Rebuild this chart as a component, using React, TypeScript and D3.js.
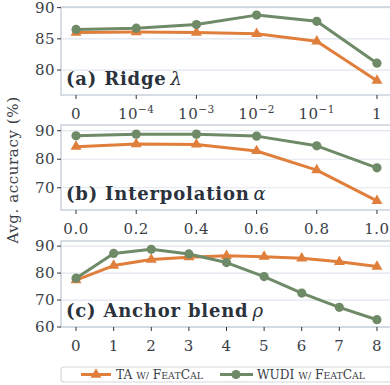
import * as d3 from 'd3';

const ridgeLabels = ['0', '10^-4', '10^-3', '10^-2', '10^-1', '1'];
const ridgeTA = [86.0, 86.1, 86.0, 85.8, 84.6, 78.3];
const ridgeWUDI = [86.5, 86.7, 87.3, 88.8, 87.8, 81.1];

const interpX = [0, 0.2, 0.4, 0.6, 0.8, 1.0];
const interpTA = [84.4, 85.3, 85.2, 82.9, 76.2, 65.4];
const interpWUDI = [88.2, 88.8, 88.8, 88.1, 84.7, 77.0];

const anchorX = [0, 1, 2, 3, 4, 5, 6, 7, 8];
const anchorTA = [77.4, 82.8, 85.0, 85.9, 86.4, 86.1, 85.5, 84.2, 82.4];
const anchorWUDI = [78.1, 87.3, 88.8, 87.1, 83.9, 78.7, 72.6, 67.3, 62.7];

const TA_COLOR = '#e07f3b';
const WUDI_COLOR = '#6e8a67';
const SPINE = '#c9d2dd';
const GRID = '#e0e6ee';
const TICK_TEXT = '#3a3e46';
const LABEL_TEXT = '#2c323c';
const FONT = "'DejaVu Serif', 'Liberation Serif', serif";

const LEFT = 61;
const RIGHT = 392;

type PanelProps = {
  top: number;
  bottom: number;
  xs: number[];
  xDomain: [number, number];
  xLabels: string[];
  yDomain: [number, number];
  yTicks: number[];
  ta: number[];
  wudi: number[];
  title: string;
  sym: string;
};

function TickLabel({ label, x, y }: { label: string; x: number; y: number }) {
  if (label.startsWith('10^')) {
    const exp = label.slice(3).replace('-', '\u2212');
    return (
      <text x={x} y={y} textAnchor="middle" style={{ fontFamily: FONT, letterSpacing: '0.5px' }} fontSize={15} fill={TICK_TEXT}>
        <tspan>10</tspan>
        <tspan fontSize={10.5} dy={-6}>{exp}</tspan>
      </text>
    );
  }
  return (
    <text x={x} y={y} textAnchor="middle" style={{ fontFamily: FONT, letterSpacing: '0.5px' }} fontSize={15} fill={TICK_TEXT}>
      {label}
    </text>
  );
}

function Panel(p: PanelProps) {
  const x = d3.scaleLinear().domain(p.xDomain).range([LEFT, RIGHT]);
  const y = d3.scaleLinear().domain(p.yDomain).range([p.bottom, p.top]);
  const line = d3.line<number>()
    .x((_, i) => x(p.xs[i]))
    .y(d => y(d));
  const tri = d3.symbol().type(d3.symbolTriangle).size(52)();

  return (
    <g>
      <rect x={LEFT} y={p.top} width={RIGHT - LEFT} height={p.bottom - p.top} fill="white" />
      {p.yTicks.map(t => (
        <line key={'g' + t} x1={LEFT} x2={RIGHT} y1={y(t)} y2={y(t)} stroke={GRID} strokeWidth={1.2} />
      ))}
      <rect x={LEFT} y={p.top} width={RIGHT - LEFT} height={p.bottom - p.top} fill="none" stroke={SPINE} strokeWidth={1.5} />
      {p.yTicks.map(t => (
        <g key={'y' + t}>
          <line x1={LEFT - 4} x2={LEFT} y1={y(t)} y2={y(t)} stroke="#333" strokeWidth={1} />
          <text x={LEFT - 6} y={y(t)} dy="0.35em" textAnchor="end" style={{ fontFamily: FONT, letterSpacing: '0.5px' }} fontSize={15} fill={TICK_TEXT}>
            {t}
          </text>
        </g>
      ))}
      {p.xs.map((v, i) => (
        <g key={'x' + i}>
          <line x1={x(v)} x2={x(v)} y1={p.bottom} y2={p.bottom + 4} stroke="#333" strokeWidth={1} />
          <TickLabel label={p.xLabels[i]} x={x(v)} y={p.bottom + 23.5} />
        </g>
      ))}
      <text x={66} y={p.bottom - 10} style={{ fontFamily: FONT, letterSpacing: '0.8px' }} fontSize={18} fill={LABEL_TEXT}>
        <tspan fontWeight="bold">{p.title}</tspan>
        <tspan fontStyle="italic" dx={4}>{p.sym}</tspan>
      </text>
      <path d={line(p.ta) || ''} fill="none" stroke={TA_COLOR} strokeWidth={3} strokeLinejoin="round" />
      {p.ta.map((v, i) => (
        <path key={'t' + i} d={tri || ''} transform={`translate(${x(p.xs[i])},${y(v)})`} fill={TA_COLOR} />
      ))}
      <path d={line(p.wudi) || ''} fill="none" stroke={WUDI_COLOR} strokeWidth={3} strokeLinejoin="round" />
      {p.wudi.map((v, i) => (
        <circle key={'w' + i} cx={x(p.xs[i])} cy={y(v)} r={4.6} fill={WUDI_COLOR} />
      ))}
    </g>
  );
}

function SmallCapsName({ x, y, prefix }: { x: number; y: number; prefix: string }) {
  return (
    <text x={x} y={y} style={{ fontFamily: FONT }} fontSize={12.2} fill={TICK_TEXT}>
      <tspan>{prefix} </tspan>
      <tspan fontSize={9.4}>W/</tspan>
      <tspan> F</tspan>
      <tspan fontSize={9.4}>EAT</tspan>
      <tspan>C</tspan>
      <tspan fontSize={9.4}>AL</tspan>
    </text>
  );
}

export default function App() {
  const tri = d3.symbol().type(d3.symbolTriangle).size(52)();
  const ridgeIdx = ridgeLabels.map((_, i) => i);
  return (
    <svg width={390} height={385} style={{ position: 'absolute', left: 0, top: 0, background: 'white' }}>
      <Panel top={7} bottom={95} xs={ridgeIdx} xDomain={[-0.25, 5.25]} xLabels={ridgeLabels}
        yDomain={[76, 90.1]} yTicks={[80, 85, 90]} ta={ridgeTA} wudi={ridgeWUDI} title="(a) Ridge" sym="λ" />
      <Panel top={125} bottom={210} xs={interpX} xDomain={[-0.05, 1.05]} xLabels={interpX.map(v => v.toFixed(1))}
        yDomain={[62.2, 92]} yTicks={[70, 80, 90]} ta={interpTA} wudi={interpWUDI} title="(b) Interpolation" sym="α" />
      <Panel top={241} bottom={327} xs={anchorX} xDomain={[-0.4, 8.4]} xLabels={anchorX.map(String)}
        yDomain={[60, 91.9]} yTicks={[60, 70, 80, 90]} ta={anchorTA} wudi={anchorWUDI} title="(c) Anchor blend" sym="ρ" />
      <text transform="translate(18,170) rotate(-90)" textAnchor="middle" style={{ fontFamily: FONT, letterSpacing: '0.6px' }} fontSize={15} fill={TICK_TEXT}>
        Avg. accuracy (%)
      </text>
      <rect x={61} y={367} width={340} height={15} rx={3} fill="white" stroke="#d3d8df" strokeWidth={1.2} />
      <line x1={81} x2={111} y1={374.5} y2={374.5} stroke={TA_COLOR} strokeWidth={3} />
      <path d={tri || ''} transform="translate(96,374.5)" fill={TA_COLOR} />
      <SmallCapsName x={116} y={379} prefix="TA" />
      <line x1={220} x2={253} y1={374.5} y2={374.5} stroke={WUDI_COLOR} strokeWidth={3} />
      <circle cx={236} cy={374.5} r={4.6} fill={WUDI_COLOR} />
      <SmallCapsName x={257} y={379} prefix="WUDI" />
    </svg>
  );
}
